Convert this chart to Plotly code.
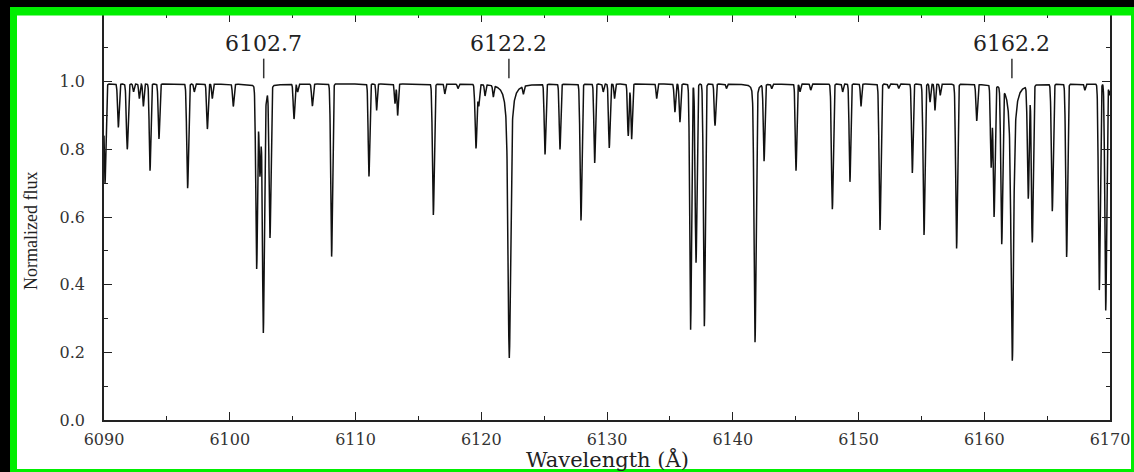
import numpy as np
import plotly.graph_objects as go

# ---- data ----
# absorption lines: centre wavelength (A), minimum normalized flux, core width (A), wing width (A, 0 = none)
line_center = [6090.08, 6091.14, 6091.85, 6092.35, 6092.81, 6093.13, 6093.66, 6094.37, 6096.65, 6097.18,
               6098.22, 6098.61, 6100.28, 6102.14, 6102.40, 6102.67, 6103.20, 6105.11, 6105.40, 6106.57,
               6108.10, 6111.07, 6111.68, 6113.14, 6113.35, 6116.19, 6117.10, 6118.15, 6119.58, 6119.80,
               6120.30, 6120.96, 6122.23, 6123.35, 6125.07, 6126.26, 6127.93, 6129.02, 6129.70, 6130.18,
               6130.60, 6131.69, 6131.96, 6133.95, 6135.40, 6135.80, 6136.65, 6137.08, 6137.74, 6138.59,
               6139.50, 6141.77, 6142.49, 6143.10, 6145.03, 6145.35, 6146.20, 6147.92, 6148.74, 6149.32,
               6150.20, 6151.71, 6152.40, 6153.20, 6154.28, 6155.21, 6155.69, 6156.08, 6156.50, 6157.80,
               6159.40, 6160.55, 6160.78, 6161.39, 6162.23, 6163.50, 6163.82, 6165.41, 6166.55, 6168.00,
               6169.15, 6169.66, 6169.95]
line_min = [0.70, 0.865, 0.80, 0.97, 0.95, 0.927, 0.737, 0.831, 0.685, 0.97,
            0.86, 0.95, 0.927, 0.452, 0.75, 0.257, 0.544, 0.89, 0.97, 0.928,
            0.483, 0.72, 0.915, 0.935, 0.90, 0.606, 0.964, 0.98, 0.804, 0.93,
            0.96, 0.96, 0.183, 0.97, 0.786, 0.80, 0.59, 0.76, 0.97, 0.804,
            0.95, 0.84, 0.83, 0.95, 0.91, 0.88, 0.267, 0.465, 0.277, 0.87,
            0.98, 0.23, 0.767, 0.98, 0.737, 0.97, 0.975, 0.623, 0.97, 0.704,
            0.927, 0.562, 0.98, 0.98, 0.73, 0.547, 0.94, 0.915, 0.96, 0.507,
            0.885, 0.75, 0.603, 0.527, 0.175, 0.658, 0.527, 0.618, 0.482, 0.975,
            0.384, 0.324, 0.96]
line_core = [0.07, 0.06, 0.07, 0.05, 0.05, 0.05, 0.06, 0.06, 0.07, 0.05,
             0.06, 0.05, 0.06, 0.07, 0.07, 0.07, 0.07, 0.06, 0.05, 0.06,
             0.07, 0.06, 0.05, 0.05, 0.05, 0.07, 0.05, 0.05, 0.07, 0.06,
             0.05, 0.05, 0.09, 0.05, 0.06, 0.06, 0.07, 0.06, 0.05, 0.06,
             0.05, 0.06, 0.06, 0.05, 0.06, 0.06, 0.07, 0.07, 0.07, 0.06,
             0.05, 0.08, 0.06, 0.05, 0.06, 0.05, 0.05, 0.07, 0.05, 0.06,
             0.05, 0.07, 0.05, 0.05, 0.06, 0.07, 0.05, 0.05, 0.05, 0.07,
             0.06, 0.06, 0.07, 0.07, 0.09, 0.07, 0.07, 0.07, 0.07, 0.05,
             0.07, 0.07, 0.05]
line_wing = [0, 0, 0, 0, 0, 0, 0, 0, 0, 0,
             0, 0, 0, 0, 0, 0.10, 0, 0, 0, 0,
             0, 0, 0, 0, 0, 0, 0, 0, 0, 0,
             0, 0, 0.16, 0, 0, 0, 0, 0, 0, 0,
             0, 0, 0, 0, 0, 0, 0, 0, 0, 0,
             0, 0.06, 0, 0, 0, 0, 0, 0, 0, 0,
             0, 0, 0, 0, 0, 0, 0, 0, 0, 0,
             0, 0, 0, 0, 0.17, 0, 0, 0, 0, 0,
             0, 0, 0]
continuum = 0.993

# identified lines marked above the spectrum
mark_wavelength = [6102.7, 6122.2, 6162.2]
mark_label = ["6102.7", "6122.2", "6162.2"]

x_ticks = [6090, 6100, 6110, 6120, 6130, 6140, 6150, 6160, 6170]
y_ticks = [0.0, 0.2, 0.4, 0.6, 0.8, 1.0]

# ---- build spectrum from the line list ----
wl = np.arange(6090.0, 6170.0001, 0.01)
flux = np.full_like(wl, continuum)
for c, m, s, g in zip(line_center, line_min, line_core, line_wing):
    d = 1.0 - m / continuum
    gauss = np.exp(-0.5 * ((wl - c) / s) ** 2)
    if g > 0:
        lor = 1.0 / (1.0 + ((wl - c) / g) ** 2)
        prof = np.maximum(gauss, 0.55 * gauss + 0.45 * lor)
    else:
        prof = gauss
    flux *= 1.0 - d * prof

fig = go.Figure()
fig.add_trace(go.Scatter(x=wl, y=flux, mode="lines",
                         line=dict(color="#111111", width=1.5), showlegend=False, hoverinfo="skip"))

# marker ticks
mx, my = [], []
for w in mark_wavelength:
    mx += [w, w, None]
    my += [1.010, 1.068, None]
fig.add_trace(go.Scatter(x=mx, y=my, mode="lines", line=dict(color="#333333", width=1.5),
                         showlegend=False, hoverinfo="skip"))

L, R, T, B = 104, 24, 14, 52
W, H = 1134, 472
pw, ph = W - L - R, H - T - B


def px(x):
    return (x - L) / pw


def py(y):
    return (H - B - y) / ph


shapes = [
    dict(type="rect", xref="paper", yref="paper", x0=px(17), x1=px(1131), y0=py(15), y1=py(469),
         fillcolor="white", line=dict(width=0), layer="below"),
]
for (a, b, c, d) in [(10, 17, 7, 472), (10, 1134, 7, 15.5), (1131, 1134, 7, 472), (10, 1134, 469, 472)]:
    shapes.append(dict(type="rect", xref="paper", yref="paper", x0=px(a), x1=px(b), y0=py(c), y1=py(d),
                       fillcolor="#00ee00", line=dict(width=0), layer="above"))

annotations = []
for w, t in zip(mark_wavelength, mark_label):
    annotations.append(dict(x=w, y=1.114, xref="x", yref="y", text=t, showarrow=False,
                            font=dict(family="DejaVu Serif", size=22, color="#222222"),
                            xanchor="center", yanchor="middle"))
annotations.append(dict(x=px(31), y=py(231), xref="paper", yref="paper", text="Normalized flux",
                        showarrow=False, textangle=-90,
                        font=dict(family="Liberation Serif", size=18, color="#222222"),
                        xanchor="center", yanchor="middle"))
annotations.append(dict(x=0.5, y=py(459), xref="paper", yref="paper", text="Wavelength (Å)",
                        showarrow=False,
                        font=dict(family="DejaVu Serif", size=21, color="#222222"),
                        xanchor="center", yanchor="middle"))

axis_common = dict(ticks="inside", ticklen=8, tickwidth=1.3, tickcolor="#222222",
                   showline=True, linecolor="#222222", linewidth=1.5, mirror="ticks",
                   showgrid=False, zeroline=False, automargin=False,
                   tickfont=dict(family="DejaVu Serif", size=16, color="#333333"))

fig.update_layout(
    width=W, height=H,
    margin=dict(l=L, r=R, t=T, b=B, autoexpand=False),
    paper_bgcolor="black", plot_bgcolor="white",
    shapes=shapes, annotations=annotations,
    xaxis=dict(range=[6090, 6170], tickvals=x_ticks, ticktext=[str(v) for v in x_ticks],
               minor=dict(dtick=5, tick0=6090, ticks="inside", ticklen=4, tickcolor="#222222"),
               ticklabelstandoff=4, **axis_common),
    yaxis=dict(range=[0, 1.2], tickvals=y_ticks, ticktext=["%.1f" % v for v in y_ticks],
               minor=dict(dtick=0.1, tick0=0, ticks="inside", ticklen=4, tickcolor="#222222"),
               ticklabelstandoff=14, **axis_common),
)

fig.write_html("out.html")
